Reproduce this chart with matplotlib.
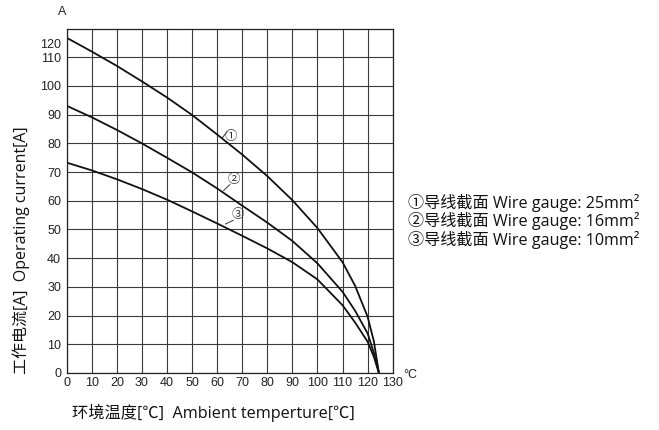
import numpy as np
import matplotlib
matplotlib.use('agg')
import matplotlib.pyplot as plt

# ambient temperature [C] and operating current [A]
temp = [0, 10, 20, 30, 40, 50, 60, 70, 80, 90, 100, 110, 115, 120, 122.5, 124.5]
cur_25 = [116.8, 112.0, 107.0, 101.6, 96.0, 89.9, 83.1, 76.1, 68.6, 60.2, 50.5, 38.6, 30.4, 19.6, 11.0, 0]
cur_16 = [93.1, 89.1, 84.7, 80.0, 75.0, 69.9, 64.3, 58.3, 52.4, 46.0, 38.2, 28.3, 21.7, 13.8, 7.0, 0]
cur_10 = [73.3, 70.6, 67.5, 64.1, 60.4, 56.3, 52.1, 47.8, 43.4, 38.6, 32.6, 23.6, 17.6, 10.9, 5.6, 0]

x_ticks = list(range(0, 131, 10))
y_ticks = list(range(0, 111, 10))
legend_lines = ['①导线截面 Wire gauge: 25mm²',
                '②导线截面 Wire gauge: 16mm²',
                '③导线截面 Wire gauge: 10mm²']

cjk = ['Noto Sans CJK SC', 'DejaVu Sans']
mixed = ['Open Sans', 'Noto Sans CJK SC', 'DejaVu Sans']
num_font = 'Liberation Sans'

fig = plt.figure(figsize=(6.59, 4.30), dpi=100)
ax = fig.add_axes([0.1012, 0.1326, 0.4947, 0.8009])

ax.set_xlim(0, 130)
ax.set_ylim(0, 120)
ax.set_xticks(x_ticks)
ax.set_yticks(y_ticks)
ax.set_xticklabels([str(v) for v in x_ticks], fontfamily=num_font, fontsize=9)
ax.set_yticklabels([str(v) for v in y_ticks], fontfamily=num_font, fontsize=9)
# the "120" label sits a bit below the top border in the original
ax.set_yticks([114.7], ['120'], minor=True)
for lab in ax.get_yticklabels(minor=True):
    lab.set_fontfamily(num_font)
    lab.set_fontsize(9)
ax.tick_params(which='both', length=0, colors='#222222')
ax.tick_params(axis='y', which='both', pad=4)
ax.tick_params(axis='x', pad=3)
ax.grid(True, which='major', color='#3a3a3a', lw=0.8)
for s in ax.spines.values():
    s.set_color('#222222')
    s.set_linewidth(0.9)

for vals in (cur_25, cur_16, cur_10):
    ax.plot(temp, vals, color='#111111', lw=1.3)

# circled markers with leader lines
marks = [('①', (62.0, 81.9), (64.0, 84.1), (65.4, 82.4)),
         ('②', (62.6, 63.6), (65.0, 65.6), (66.8, 67.3)),
         ('③', (63.3, 51.9), (66.4, 53.2), (68.1, 55.2))]
for txt, p0, p1, c in marks:
    ax.plot([p0[0], p1[0]], [p0[1], p1[1]], color='#333333', lw=0.7)
    ax.text(c[0], c[1], txt, fontsize=9, family=cjk, color='#333333',
            ha='center', va='center')

fig.text(61.7 / 659, 1 - 12 / 430, 'A', fontfamily=num_font, fontsize=9,
         ha='center', va='center', color='#222222')
fig.text(410 / 659, 1 - 375 / 430, '°C', fontfamily=num_font, fontsize=9,
         ha='center', va='center', color='#222222')

fig.text(21 / 659, 1 - 250 / 430, '工作电流[A]  Operating current[A]', family=mixed,
         fontsize=11.5, rotation=90, ha='center', va='center', color='#111111')
fig.text(213 / 659, 1 - 413 / 430, '环境温度[℃]  Ambient temperture[℃]', family=mixed,
         fontsize=11.7, ha='center', va='center', color='#111111')

for i, line in enumerate(legend_lines):
    fig.text(408 / 659, 1 - (203 + i * 18.5) / 430, line, family=mixed,
             fontsize=11.6, ha='left', va='center', color='#111111')

plt.savefig('out.png', dpi=100)
plt.close()
